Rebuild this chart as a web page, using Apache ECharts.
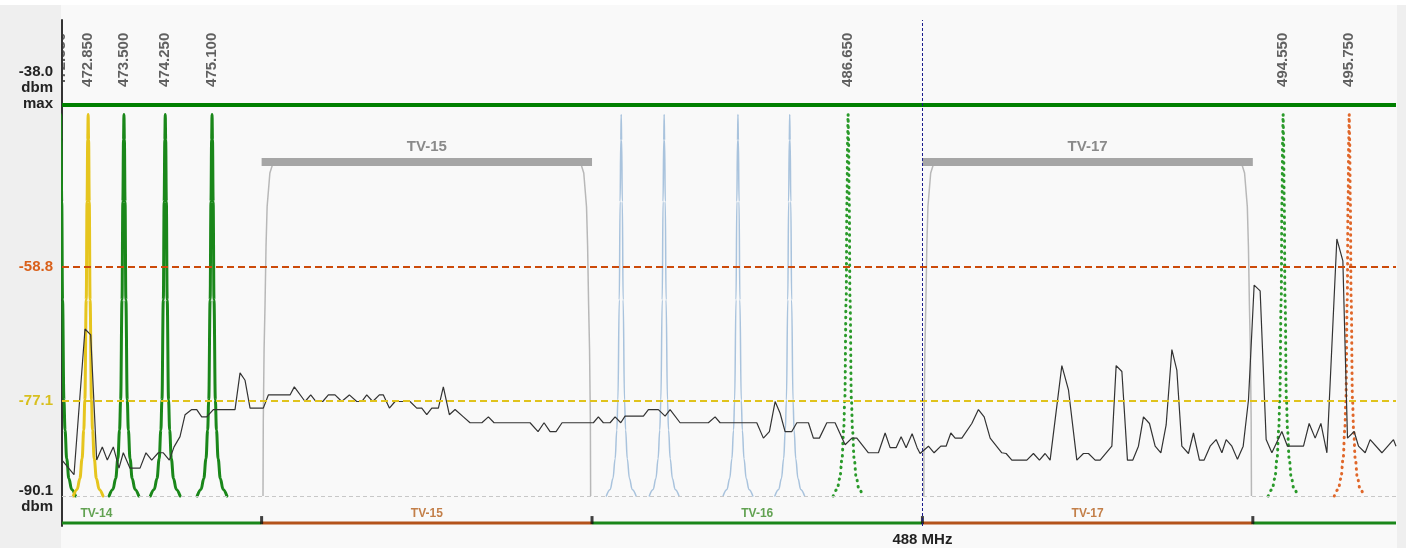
<!DOCTYPE html>
<html><head><meta charset="utf-8">
<script src="https://cdn.jsdelivr.net/npm/echarts@6/dist/echarts.min.js"></script>
<style>html,body{margin:0;padding:0;background:#f9f9f9}#c{width:1406px;height:548px}</style>
</head><body><div id="c"></div><script>
// ---------- data ----------
const xMin = 472.375, xMax = 496.6;          // MHz shown
const yMin = -94.2, yMax = -25.1;            // dBm axis extent
const micFreqs = [472.350, 472.850, 473.500, 474.250, 475.100, 486.650, 494.550, 495.750];
const micKinds = ['green', 'yellow', 'green', 'green', 'green', 'greenDot', 'greenDot', 'orangeDot'];
const micPeakDbm = [-38, -38, -38, -38, -38, -38, -38, -38];
const otherPeakFreqs = [482.53, 483.31, 484.65, 485.59];
const otherPeakDbm = [-38, -38, -38, -38];
// peak profile: [MHz offset from centre, dB below peak]
const peakShape = [[-0.27,52.1],[-0.2,51.2],[-0.15,49.7],[-0.11,47.0],[-0.08,43.1],[-0.06,39.0],[-0.035,25.3],[-0.02,11.9],[-0.008,3.5],[0,0],
                   [0.008,3.5],[0.02,11.9],[0.035,25.3],[0.06,39.0],[0.08,43.1],[0.11,47.0],[0.15,49.7],[0.2,51.2],[0.27,52.1]];
const tvChannels = ['TV-14', 'TV-15', 'TV-16', 'TV-17', 'TV-18'];
const tvStarts = [470, 476, 482, 488, 494];
const tvEnds = [476, 482, 488, 494, 500];
const occupiedChannels = ['TV-15', 'TV-17'];
const occupiedDbm = -44.5;
// channel mask edge: [MHz from channel edge, dBm]
const maskShape = [[0.025,-90.1],[0.03,-80],[0.045,-70],[0.062,-64],[0.08,-56],[0.1,-50.6],[0.15,-46],[0.2,-44.8],[0.3,-44.5]];
const maxLineDbm = -36.7, maxLabel = '-38.0';
const redThreshold = -58.8, yellowThreshold = -77.1, floorDbm = -90.1;
const centerFreq = 488;
const noiseTrace = [[472.375,-85.2],[472.593,-87.2],[472.793,-67.3],[472.896,-68.1],[473.005,-85.2],[473.107,-83.4],[473.198,-85.2],[473.307,-83.4],[473.41,-86.3],[473.488,-84.2],[473.61,-86.3],[473.792,-86.3],[473.90,-84.2],[474.004,-85.2],[474.124,-84.2],[474.215,-84.2],[474.324,-85.2],[474.41,-83.4],[474.518,-82.0],[474.61,-79.0],[474.731,-78.3],[474.822,-78.3],[474.912,-79.3],[475.003,-79.3],[475.123,-78.3],[475.517,-78.3],[475.608,-73.3],[475.699,-74.3],[475.79,-78.1],[476.031,-78.1],[476.122,-76.3],[476.516,-76.3],[476.594,-75.2],[476.789,-77.2],[476.892,-76.3],[476.988,-77.2],[477.11,-77.2],[477.212,-76.3],[477.333,-76.3],[477.455,-77.2],[477.593,-76.3],[477.727,-77.2],[477.818,-77.2],[477.909,-76.3],[478.018,-77.2],[478.138,-76.3],[478.211,-76.3],[478.32,-78.1],[478.423,-77.2],[478.695,-77.2],[478.817,-78.1],[478.908,-78.1],[478.999,-79.0],[479.09,-78.1],[479.21,-78.1],[479.30,-75.2],[479.409,-79.0],[479.513,-78.3],[479.664,-79.3],[479.785,-80.1],[480.0,-80.1],[480.118,-79.3],[480.221,-80.1],[480.875,-80.1],[481.02,-81.3],[481.129,-80.1],[481.238,-81.3],[481.347,-81.3],[481.456,-80.1],[481.783,-80.1],[482.025,-80.1],[482.115,-79.3],[482.206,-80.1],[482.328,-80.1],[482.419,-79.3],[482.522,-80.1],[482.60,-79.2],[482.933,-79.2],[483.024,-78.3],[483.205,-78.3],[483.327,-79.2],[483.418,-78.3],[483.599,-80.1],[484.113,-80.1],[484.235,-79.3],[484.326,-80.1],[484.992,-80.1],[485.112,-82.2],[485.221,-81.3],[485.325,-77.2],[485.416,-78.8],[485.506,-81.3],[485.628,-81.3],[485.719,-80.1],[485.93,-80.1],[486.02,-82.2],[486.129,-82.2],[486.264,-80.1],[486.414,-80.1],[486.596,-83.1],[486.718,-82.2],[486.809,-82.2],[487.019,-84.2],[487.201,-84.2],[487.323,-81.5],[487.413,-83.5],[487.522,-83.5],[487.613,-82.0],[487.704,-83.5],[487.813,-81.6],[487.904,-83.5],[487.958,-84.3],[488.109,-83.3],[488.212,-84.2],[488.334,-83.3],[488.43,-83.3],[488.516,-81.5],[488.594,-82.2],[488.716,-82.2],[488.897,-80.2],[489.017,-78.3],[489.121,-79.3],[489.23,-82.2],[489.442,-84.2],[489.52,-84.3],[489.624,-85.2],[489.896,-85.2],[490.016,-84.3],[490.125,-85.2],[490.228,-84.3],[490.319,-85.2],[490.532,-72.3],[490.652,-75.6],[490.804,-85.2],[490.924,-84.3],[491.015,-84.3],[491.137,-85.2],[491.227,-85.2],[491.44,-83.3],[491.518,-72.3],[491.622,-73.1],[491.723,-85.2],[491.821,-85.2],[491.923,-83.3],[492.014,-79.3],[492.123,-80.2],[492.226,-83.3],[492.33,-84.2],[492.426,-80.4],[492.53,-70.1],[492.62,-72.9],[492.711,-83.3],[492.831,-84.3],[492.922,-81.5],[493.031,-85.2],[493.116,-85.2],[493.225,-83.3],[493.334,-82.4],[493.438,-84.2],[493.516,-82.4],[493.619,-83.3],[493.721,-85.1],[493.825,-83.3],[493.921,-77.0],[494.024,-61.3],[494.133,-62.1],[494.242,-82.4],[494.346,-84.2],[494.527,-81.3],[494.629,-83.3],[494.92,-83.3],[495.023,-80.2],[495.132,-82.2],[495.236,-80.2],[495.345,-84.2],[495.526,-55.0],[495.635,-58.0],[495.719,-82.2],[495.84,-81.3],[495.919,-83.3],[496.04,-84.2],[496.131,-82.4],[496.344,-84.2],[496.554,-82.4],[496.6,-83.3]];

// ---------- styling / layout ----------
const FONT = '"Liberation Sans", Arial, sans-serif';
const BAND_Y = -93.8;     // level of the channel band strip
const LABEL_Y = -34.24;   // anchor level of rotated frequency labels
const kindStyle = {
  green:     {color: '#1a871a', width: 3, type: 'solid', cap: 'round'},
  yellow:    {color: '#e6c51e', width: 3, type: 'solid', cap: 'round'},
  greenDot:  {color: '#2a9a2a', width: 3, type: [0.5, 5.5], cap: 'round'},
  orangeDot: {color: '#e0672a', width: 3, type: [0.5, 5.5], cap: 'round'},
  blue:      {color: '#a9c3dd', width: 1.5, type: 'solid', cap: 'round'}
};
const green = '#1a871a', brown = '#b4531b';

const series = [];
function peakData(f, lvl) { return peakShape.map(([o, d]) => [f + o, lvl - d]); }

// occupied TV channels (mask + bar)
tvChannels.forEach((name, i) => {
  if (!occupiedChannels.includes(name)) return;
  const s = tvStarts[i], e = tvEnds[i];
  const left = maskShape.map(([o, v]) => [s + o, v]);
  const right = maskShape.slice().reverse().map(([o, v]) => [e - o, v]);
  series.push({
    type: 'line', data: left.concat(right), symbol: 'none', silent: true, z: 2,
    lineStyle: {color: '#b8b8b8', width: 1.5},
    markLine: {
      symbol: ['none', 'none'], silent: true, animation: false,
      lineStyle: {color: '#a6a6a6', width: 8, type: 'solid', cap: 'butt'},
      label: {show: true, position: 'insideMiddleTop', distance: 8, formatter: () => name,
              color: '#8a8a8a', fontSize: 15, fontWeight: 'bold', fontFamily: FONT},
      data: [[{coord: [s, occupiedDbm]}, {coord: [e, occupiedDbm]}]]
    }
  });
});

// other (unlabelled) carriers
otherPeakFreqs.forEach((f, i) => {
  const st = kindStyle.blue;
  series.push({type: 'line', data: peakData(f, otherPeakDbm[i]), symbol: 'none', silent: true, z: 3,
    smooth: 0.4, smoothMonotone: 'x',
    lineStyle: {color: st.color, width: st.width, type: st.type, cap: st.cap, join: 'round'}});
});
// wireless mic carriers
micFreqs.forEach((f, i) => {
  const st = kindStyle[micKinds[i]];
  series.push({type: 'line', data: peakData(f, micPeakDbm[i]), symbol: 'none', silent: true, z: 3,
    smooth: 0.4, smoothMonotone: 'x',
    lineStyle: {color: st.color, width: st.width, type: st.type, cap: st.cap, join: 'round'}});
});
// frequency labels
series.push({
  type: 'scatter', symbolSize: 0, clip: false, silent: true, z: 3,
  data: micFreqs.map(f => [f, LABEL_Y]),
  label: {show: true, position: 'inside', rotate: 90, align: 'left', verticalAlign: 'middle',
          formatter: p => p.value[0].toFixed(3), color: '#3a3a3a', fontSize: 15, fontWeight: 'bold', fontFamily: FONT}
});
// noise trace
series.push({type: 'line', data: noiseTrace, symbol: 'none', silent: true, z: 4,
  lineStyle: {color: '#333', width: 1.2}});

// channel band strip
tvChannels.forEach((name, i) => {
  const num = parseInt(name.split('-')[1], 10);
  const col = num % 2 === 0 ? green : brown;
  series.push({type: 'line', symbol: 'none', silent: true, z: 3,
    data: [[Math.max(tvStarts[i], xMin), BAND_Y], [Math.min(tvEnds[i], xMax), BAND_Y]],
    lineStyle: {color: col, width: 3}});
});
series.push({
  type: 'scatter', symbolSize: 0, silent: true, z: 3, clip: true,
  data: tvChannels.map((name, i) => {
    const num = parseInt(name.split('-')[1], 10);
    return {value: [(tvStarts[i] + tvEnds[i]) / 2, BAND_Y], name: name,
            label: {color: num % 2 === 0 ? '#3c8c28' : '#b5601d'}};
  }).filter(d => d.value[0] > xMin && d.value[0] < xMax),
  label: {show: true, position: 'top', distance: 3, formatter: '{b}', fontSize: 12, fontWeight: 'bold', fontFamily: FONT}
});
series.push({
  type: 'scatter', symbol: 'rect', symbolSize: [3, 8], symbolOffset: [0, -3], silent: true, z: 4,
  itemStyle: {color: '#111'},
  data: tvStarts.filter(v => v > xMin && v < xMax).map(v => [v, BAND_Y])
});

// reference lines with their axis labels
const lblBase = {position: 'start', distance: 9, fontSize: 15, fontWeight: 'bold', fontFamily: FONT, lineHeight: 16,
                 rich: {up: {lineHeight: 34, fontSize: 1}, dn: {lineHeight: 6, fontSize: 1}}};
series.push({
  type: 'line', data: [], z: 10, silent: true,
  markLine: {
    symbol: ['none', 'none'], silent: true, animation: false,
    data: [
      {yAxis: maxLineDbm, lineStyle: {color: '#008000', width: 4, type: 'solid'},
       label: Object.assign({}, lblBase, {formatter: maxLabel + '\ndbm\nmax\n{up| }', color: '#222'})},
      {yAxis: redThreshold, lineStyle: {color: '#cc4a0a', width: 2, type: [7, 4]},
       label: Object.assign({}, lblBase, {formatter: redThreshold.toFixed(1), color: '#d9601a'})},
      {yAxis: yellowThreshold, lineStyle: {color: '#e0c31c', width: 2, type: [7, 4]},
       label: Object.assign({}, lblBase, {formatter: yellowThreshold.toFixed(1), color: '#d8bf1e'})},
      {yAxis: floorDbm, lineStyle: {color: '#c8c8c8', width: 1, type: [4, 3]},
       label: Object.assign({}, lblBase, {formatter: '{dn| }\n' + floorDbm.toFixed(1) + '\ndbm', color: '#222'})},
      {xAxis: centerFreq, lineStyle: {color: '#1a1a8c', width: 1, type: [3, 2]}, label: {show: false}}
    ]
  }
});

const option = {
  animation: false,
  backgroundColor: '#f9f9f9',
  grid: {left: 62, right: 10, top: 20, bottom: 22},
  xAxis: {
    type: 'value', min: xMin, max: xMax,
    axisLine: {show: false}, axisTick: {show: false}, splitLine: {show: false},
    axisLabel: {customValues: [centerFreq], formatter: v => Math.round(v) + ' MHz', margin: 6,
                color: '#222', fontSize: 15, fontWeight: 'bold', fontFamily: FONT}
  },
  yAxis: {
    type: 'value', min: yMin, max: yMax,
    axisLine: {show: true, lineStyle: {color: '#333', width: 2}},
    axisTick: {show: false}, splitLine: {show: false}, axisLabel: {show: false}
  },
  graphic: {elements: [
    {type: 'rect', z: 5, silent: true, shape: {x: 0, y: 0, width: 61, height: 548}, style: {fill: '#efefef'}},
    {type: 'rect', z: 5, silent: true, shape: {x: 1397, y: 0, width: 9, height: 548}, style: {fill: '#efefef'}},
    {type: 'rect', z: 5, silent: true, shape: {x: 0, y: 0, width: 1406, height: 5}, style: {fill: '#ffffff'}}
  ]},
  series: series
};
const chart = echarts.init(document.getElementById('c'));
chart.setOption(option);
</script></body></html>
